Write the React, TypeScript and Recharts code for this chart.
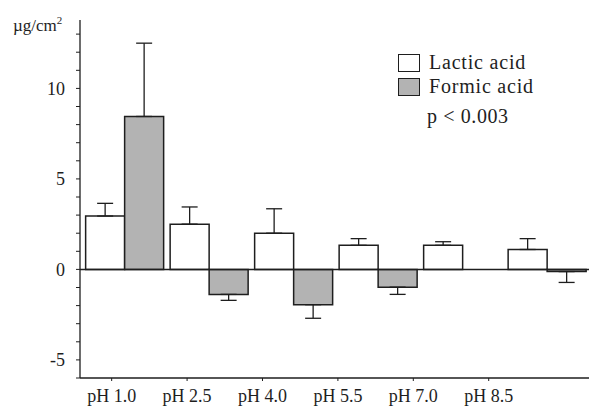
import {
  Bar,
  BarChart,
  ErrorBar,
  ReferenceLine,
  XAxis,
  YAxis,
} from "recharts";

const categories = ["pH 1.0", "pH 2.5", "pH 4.0", "pH 5.5", "pH 7.0", "pH 8.5"];
const lactic = [2.95, 2.5, 2.0, 1.33, 1.33, 1.1];
const lacticErr = [0.7, 0.95, 1.35, 0.37, 0.2, 0.6];
const formic = [8.45, -1.38, -1.95, -0.98, 0, -0.12];
const formicErr = [4.05, 0.33, 0.75, 0.4, 0, 0.6];
const yTicks = [-6, -5, -4, -3, -2, -1, 0, 1, 2, 3, 4, 5, 6, 7, 8, 9, 10, 11, 12, 13];
const labelTicks = [0, 1, 2, 3, 4, 5];

const FONT = "'Liberation Serif', 'DejaVu Serif', serif";
const INK = "#1e1e1e";
const GRAY = "#b3b3b3";

const data = categories.map((name, i) => ({
  name,
  idx: i,
  lactic: lactic[i],
  formic: formic[i],
  // one-sided error bars: away from zero
  lacticErr: lactic[i] >= 0 ? [0, lacticErr[i]] : [lacticErr[i], 0],
  formicErr: formic[i] >= 0 ? [0, formicErr[i]] : [formicErr[i], 0],
}));

const YTick = (props: any) => {
  const { x, y, payload } = props;
  if (payload.value % 5 !== 0) return null;
  return (
    <text x={x} y={y} dy="0.35em" textAnchor="end" fontFamily={FONT} fontSize={18} fill={INK}>
      {payload.value < 0 ? "-" + Math.abs(payload.value) : payload.value}
    </text>
  );
};

const UnitLabel = () => (
  <text x={13} y={31} fontFamily={FONT} fontSize={17} fill={INK}>
    µg/cm
    <tspan fontSize={11} dy={-7}>
      2
    </tspan>
  </text>
);

const LegendBox = () => (
  <div
    style={{
      position: "absolute",
      left: 398,
      top: 53,
      fontFamily: FONT,
      fontSize: 20,
      color: INK,
      lineHeight: "19px",
    }}
  >
    <div style={{ display: "flex", alignItems: "center", marginBottom: 5 }}>
      <span style={{ width: 20, height: 16, border: `1.5px solid ${INK}`, background: "#fff", marginRight: 9 }} />
      <span style={{ letterSpacing: 0.8 }}>Lactic acid</span>
    </div>
    <div style={{ display: "flex", alignItems: "center" }}>
      <span style={{ width: 20, height: 16, border: `1.5px solid ${INK}`, background: GRAY, marginRight: 9 }} />
      <span style={{ letterSpacing: 0.8 }}>Formic acid</span>
    </div>
    <div style={{ marginTop: 11, marginLeft: 29, letterSpacing: 0.6 }}>p &lt; 0.003</div>
  </div>
);

export default function App() {
  return (
    <div style={{ position: "absolute", left: 0, top: 0, width: 590, height: 411 }}>
      <BarChart
        width={590}
        height={411}
        data={data}
        margin={{ top: 20, right: 1, left: 0, bottom: 0 }}
        barCategoryGap="4.3%"
        barGap={0}
      >
        <XAxis
          dataKey="name"
          xAxisId="bars"
          orientation="top"
          height={0}
          hide
          padding={{ left: 2, right: 0 }}
        />
        <XAxis
          xAxisId="labels"
          type="number"
          dataKey="idx"
          domain={[-0.42, 6.33]}
          allowDataOverflow
          ticks={labelTicks}
          tickFormatter={(i: number) => categories[i]}
          height={33}
          tickSize={3}
          tickMargin={8}
          axisLine={{ stroke: INK, strokeWidth: 1.3 }}
          tickLine={{ stroke: INK }}
          tick={{ fontFamily: FONT, fontSize: 18, fill: INK }}
        />
        <YAxis
          width={80}
          domain={[-6, 13.78]}
          allowDataOverflow
          ticks={yTicks}
          interval={0}
          tickSize={4}
          tickMargin={11}
          tick={<YTick />}
          axisLine={{ stroke: INK, strokeWidth: 1.3 }}
          tickLine={{ stroke: INK }}
          label={<UnitLabel />}
        />
        <ReferenceLine y={0} xAxisId="bars" stroke={INK} strokeWidth={1.5} />
        <Bar
          dataKey="lactic"
          xAxisId="bars"
          fill="#ffffff"
          stroke={INK}
          strokeWidth={1.5}
          isAnimationActive={false}
        >
          <ErrorBar dataKey="lacticErr" width={8} stroke={INK} strokeWidth={1.3} direction="y" />
        </Bar>
        <Bar
          dataKey="formic"
          xAxisId="bars"
          fill={GRAY}
          stroke={INK}
          strokeWidth={1.5}
          isAnimationActive={false}
        >
          <ErrorBar dataKey="formicErr" width={8} stroke={INK} strokeWidth={1.3} direction="y" />
        </Bar>
      </BarChart>
      <LegendBox />
    </div>
  );
}
